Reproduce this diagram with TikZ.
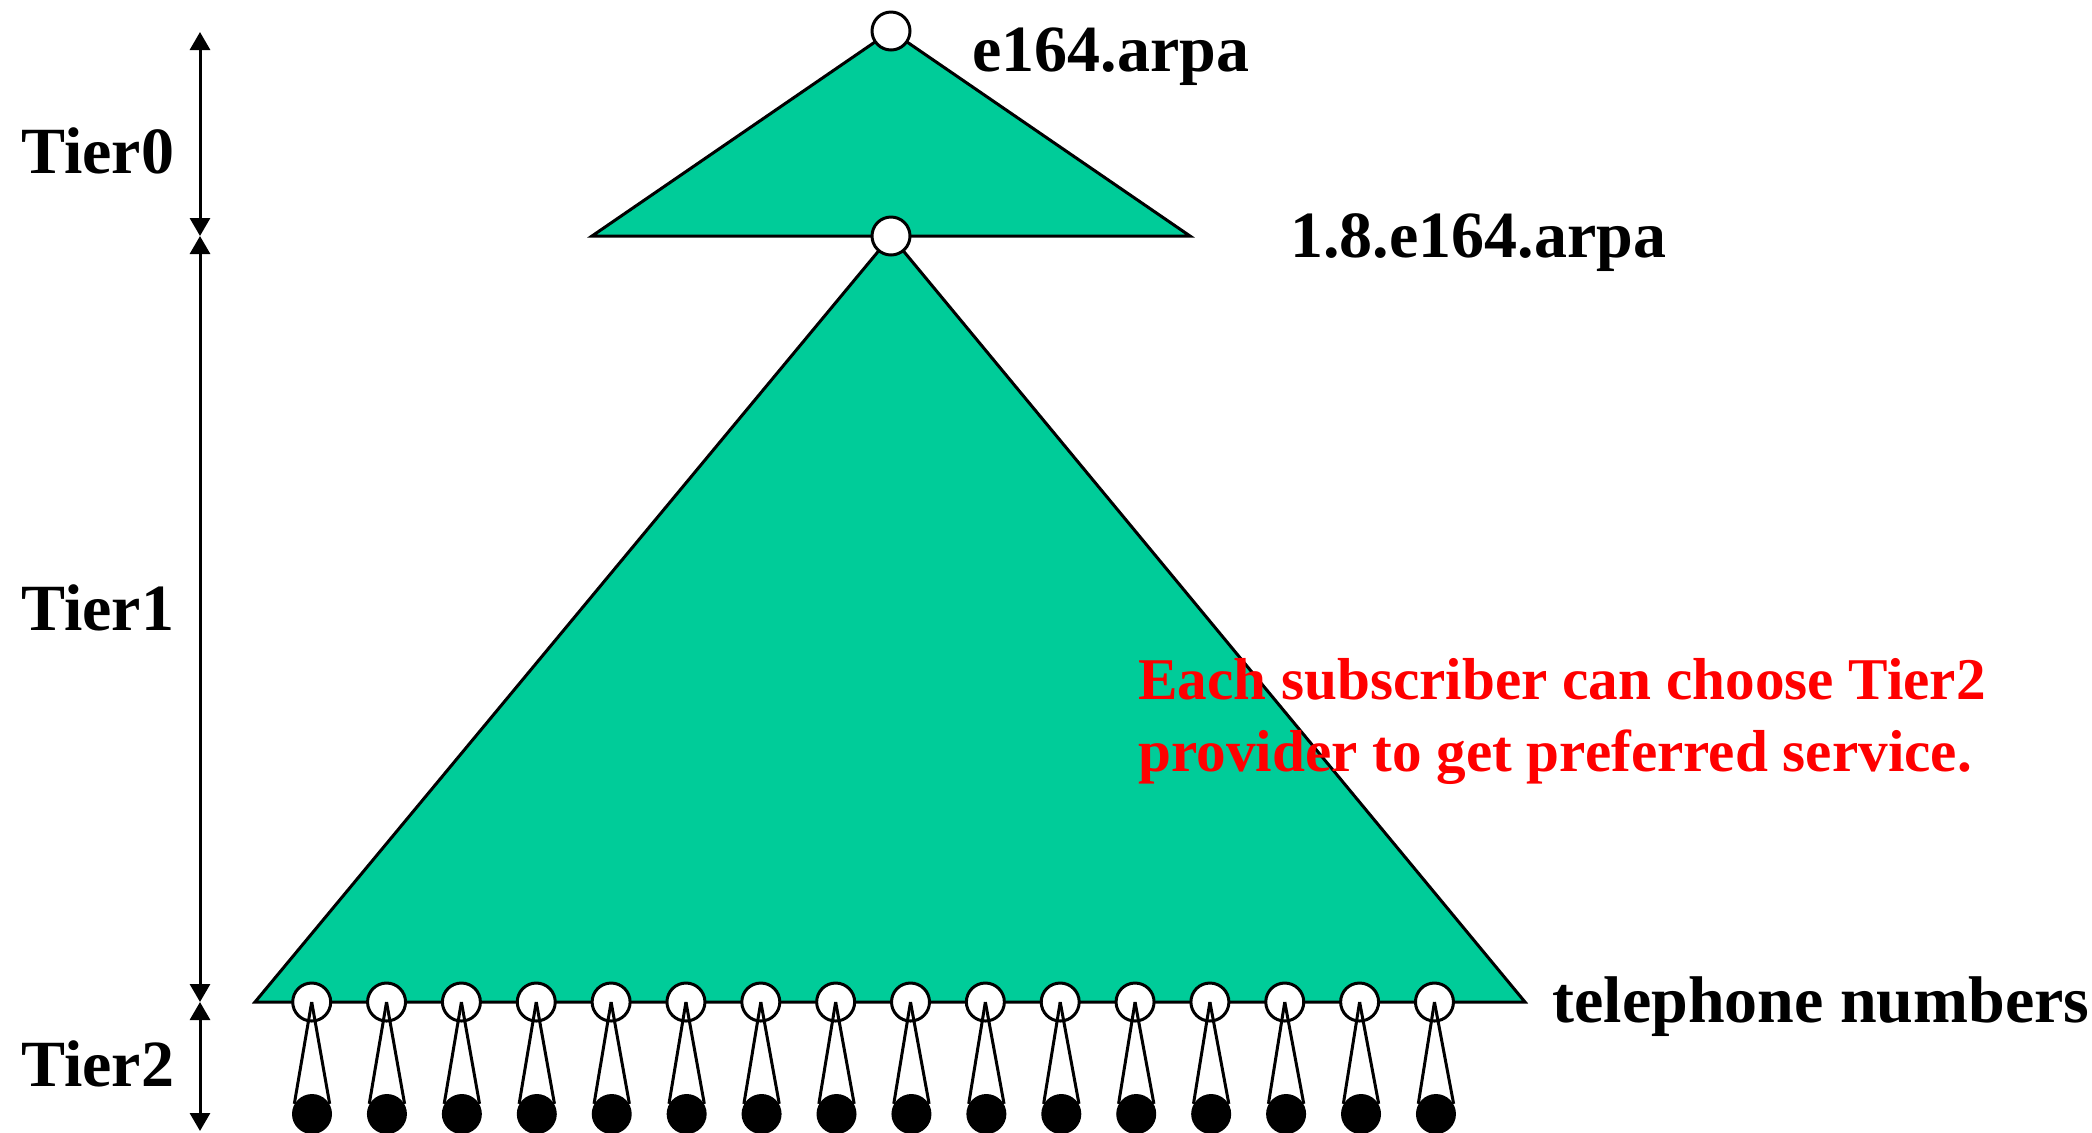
\documentclass[tikz,border=0pt]{standalone}
\usepackage{fontspec}
\setmainfont{Liberation Serif}
\usetikzlibrary{arrows.meta}
\definecolor{treegreen}{RGB}{0,204,153}
\tikzset{
  lbl/.style={anchor=base west, inner sep=0pt, font=\fontsize{33pt}{36pt}\selectfont\bfseries},
  redlbl/.style={anchor=base west, inner sep=0pt, text=red, font=\fontsize{29.6pt}{36pt}\selectfont\bfseries},
  tri/.style={draw=black, fill=treegreen, line width=1.5pt, line join=miter},
  wnode/.style={circle, draw=black, fill=white, line width=1.5pt, minimum size=19pt, inner sep=0pt},
  bnode/.style={circle, fill=black, minimum size=20pt, inner sep=0pt},
  dimarrow/.style={line width=1.5pt, {Triangle[length=9pt,width=10pt]}-{Triangle[length=9pt,width=10pt]}},
  cone/.style={line width=1.5pt}
}
\begin{document}
\begin{tikzpicture}[x=0.5pt, y=-0.5pt]
\useasboundingbox (0,0) rectangle (2092,1132);
% triangle corners
\coordinate (t0l) at (592,236);
\coordinate (t0r) at (1190,236);
\coordinate (t1l) at (255,1002);
\coordinate (t1r) at (1525,1002);
\coordinate (rootc) at (891,31);
\coordinate (midc) at (891,236);
% triangles
\filldraw[tri] (rootc) -- (t0l) -- (t0r) -- cycle;
\filldraw[tri] (midc) -- (t1l) -- (t1r) -- cycle;
% tier arrows
\coordinate (a0) at (200,32);
\coordinate (a1) at (200,236);
\coordinate (a2) at (200,1002);
\coordinate (a3) at (200,1131);
\draw[dimarrow] (a1) -- (a0);
\draw[dimarrow] (a1) -- (a2);
\draw[dimarrow] (a2) -- (a3);
% nodes
\node[wnode] (root) at (rootc) {};
\node[wnode] (n18) at (midc) {};
\foreach \i in {0,...,15} {
  \node[wnode] (w\i) at ({311.7+74.85*\i},1002) {};
  \node[bnode] (b\i) at ({312+74.93*\i},1114) {};
  \draw[cone] (w\i.center) -- (b\i.150);
  \draw[cone] (w\i.center) -- (b\i.30);
}
% labels
\node[lbl] (tier0) at (21,173) {Tier0};
\node[lbl] (tier1) at (21,630) {Tier1};
\node[lbl] (tier2) at (21,1086) {Tier2};
\node[lbl] (e164) at (972,71) {e164.arpa};
\node[lbl] (e18) at (1290,257) {1.8.e164.arpa};
\node[lbl] (tel) at (1552,1022) {telephone numbers};
\node[redlbl] (red1) at (1138,699) {Each subscriber can choose Tier2};
\node[redlbl] (red2) at (1138,771) {provider to get preferred service.};
\end{tikzpicture}
\end{document}
